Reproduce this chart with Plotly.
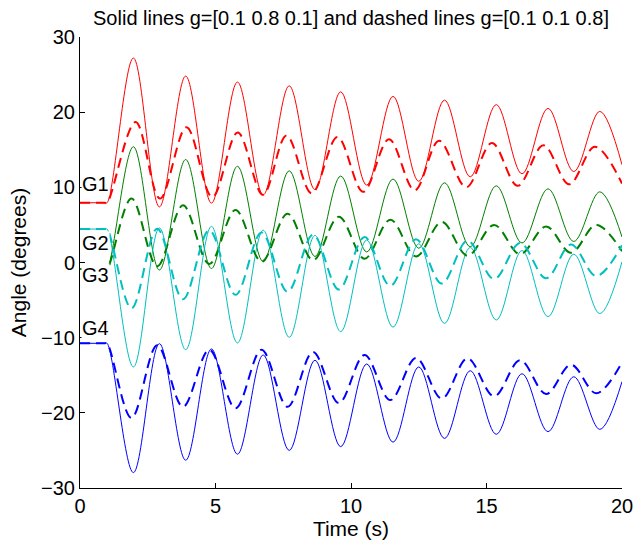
import plotly.graph_objects as go

# ---- data (start level, then extrema) ----
t_solid = [0, 0.9, 1.0, 1.97, 2.93, 3.9, 4.85, 5.81, 6.76, 7.72, 8.67, 9.62, 10.58,
           11.55, 12.5, 13.45, 14.4, 15.36, 16.31, 17.27, 18.22, 19.18, 20.0]
g1_solid = [7.95, 7.95, 7.95, 27.2, 7.4, 24.8, 7.9, 24.0, 9.0, 23.5, 9.7, 22.7, 10.3,
            22.1, 10.8, 21.6, 11.4, 21.0, 11.8, 20.5, 12.1, 20.1, 13.0]
g2_solid = [-0.87, -0.87, -0.87, 15.4, -1.0, 13.7, -0.8, 12.8, 0.1, 12.2, 0.8, 11.5, 1.4,
            11.1, 1.9, 10.6, 2.1, 10.2, 2.6, 9.8, 2.8, 9.4, 3.4]
g3_solid = [4.45, 4.45, 4.45, -13.9, 4.6, -11.6, 4.8, -10.7, 4.3, -9.95, 3.6, -9.2, 3.0,
            -8.6, 2.5, -8.1, 2.0, -7.65, 1.6, -7.2, 1.1, -6.8, 0.1]
g4_solid = [-10.75, -10.75, -10.75, -27.95, -10.8, -26.3, -11.5, -25.5, -12.3, -25.0, -13.0,
            -24.5, -13.5, -23.9, -13.9, -23.4, -14.4, -22.85, -14.8, -22.5, -15.2,
            -22.2, -15.85]

t_dash_g1 = [0, 0.9, 1.0, 2.05, 2.95, 3.93, 4.88, 5.82, 6.75, 7.62, 8.55, 9.5, 10.45,
             11.4, 12.35, 13.25, 14.25, 15.2, 16.15, 17.1, 18.05, 19.0, 20.0]
g1_dash = [7.95, 7.95, 7.95, 18.7, 8.5, 18.0, 8.7, 17.3, 9.0, 16.9, 9.2, 16.7, 9.4,
           16.4, 9.6, 16.2, 10.0, 15.9, 10.2, 15.6, 10.4, 15.4, 10.5]

t_dash = [0, 0.9, 1.0, 1.9, 2.85, 3.8, 4.77, 5.74, 6.7, 7.66, 8.6, 9.55, 10.5,
          11.45, 12.4, 13.35, 14.3, 15.28, 16.24, 17.2, 18.12, 19.05, 20.0]
g2_dash = [-0.87, -0.87, -0.87, 8.5, -0.5, 7.6, -0.2, 7.0, 0.1, 6.5, 0.3, 6.1, 0.5,
           5.7, 0.8, 5.4, 0.9, 5.0, 1.1, 4.8, 1.3, 5.0, 1.5]
g3_dash = [4.45, 4.45, 4.45, -6.1, 4.5, -4.9, 4.3, -4.3, 4.0, -3.9, 3.7, -3.6, 3.4,
           -3.1, 3.1, -2.8, 2.9, -2.2, 2.6, -2.1, 2.4, -1.8, 2.3]
g4_dash = [-10.75, -10.75, -10.75, -20.7, -11.0, -19.2, -11.6, -19.4, -11.6, -19.2, -11.9,
           -18.7, -12.3, -18.3, -12.7, -18.1, -12.75, -17.8, -13.0, -17.5, -13.6,
           -17.4, -13.3]

labels = ["G1", "G2", "G3", "G4"]
label_y = [10.5, 2.55, -1.7, -8.7]
colors = ["#ff0000", "#008000", "#00bfbf", "#0000ff"]

x_ticks = [0, 5, 10, 15, 20]
y_ticks = [-30, -20, -10, 0, 10, 20, 30]

FONT = "Liberation Sans, Arial, Helvetica, sans-serif"
W, H = 633, 546

fig = go.Figure()
solid_sets = [g1_solid, g2_solid, g3_solid, g4_solid]
dash_sets = [(t_dash_g1, g1_dash), (t_dash, g2_dash), (t_dash, g3_dash), (t_dash, g4_dash)]
for ys, c in zip(solid_sets, colors):
    fig.add_trace(go.Scatter(x=t_solid, y=ys, mode="lines",
                             line=dict(color=c, width=1, shape="spline"),
                             showlegend=False, hoverinfo="skip"))
for (ts, ys), c in zip(dash_sets, colors):
    fig.add_trace(go.Scatter(x=ts, y=ys, mode="lines",
                             line=dict(color=c, width=2, shape="spline", dash="10px,6px"),
                             showlegend=False, hoverinfo="skip"))

for lab, yv in zip(labels, label_y):
    fig.add_annotation(x=0.03, y=yv, xref="x", yref="y", text=lab, showarrow=False,
                       xanchor="left", yanchor="middle", bgcolor="white",
                       font=dict(size=20, color="black", family=FONT), borderpad=0)

fig.update_layout(
    width=W, height=H,
    margin=dict(l=80, r=11, t=37, b=58),
    paper_bgcolor="white", plot_bgcolor="white",
    font=dict(family=FONT, size=20, color="black"),
    hovermode=False,
    title=dict(text="Solid lines g=[0.1 0.8 0.1] and dashed lines g=[0.1 0.1 0.8]",
               x=0.5, xref="paper", xanchor="center",
               y=1 - 18 / H, yref="container", yanchor="middle",
               font=dict(size=20, color="black", family=FONT)),
)
fig.update_xaxes(range=[0, 20], tickvals=x_ticks, ticks="inside", ticklen=5,
                 tickcolor="black", showline=True, linecolor="black", linewidth=1,
                 showgrid=False, zeroline=False, mirror=False, automargin=False,
                 ticklabeloverflow="allow",
                 title=dict(text="Time (s)", standoff=2, font=dict(size=21)),
                 tickfont=dict(size=20))
fig.update_yaxes(range=[-30, 30], tickvals=y_ticks, ticks="inside", ticklen=5,
                 tickcolor="black", showline=True, linecolor="black", linewidth=1,
                 showgrid=False, zeroline=False, mirror=False, automargin=False,
                 title=dict(text="Angle (degrees)", standoff=8, font=dict(size=21)),
                 tickfont=dict(size=20))

fig.write_html("out.html", config={"displayModeBar": False, "staticPlot": True},
               post_script="document.body.style.margin='0';document.body.style.overflow='hidden';")
